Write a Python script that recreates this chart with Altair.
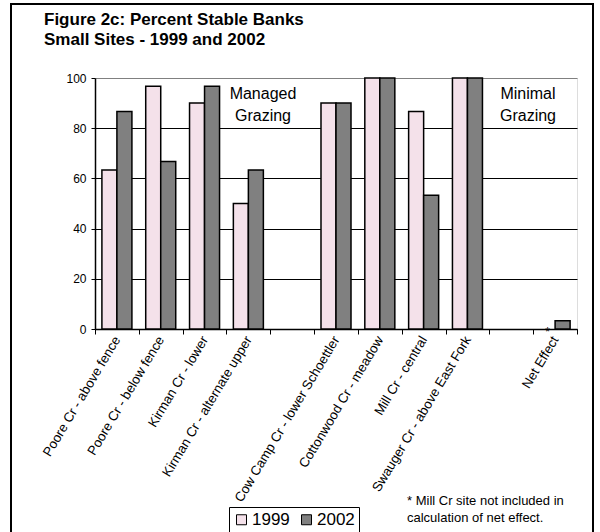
import altair as alt
import pandas as pd

# Sites in axis order; the two blank slots separate the grazing groups
sites = [
    "Poore Cr - above fence",
    "Poore Cr - below fence",
    "Kirman Cr - lower",
    "Kirman Cr - alternate upper",
    " ",
    "Cow Camp Cr - lower Schoettler",
    "Cottonwood Cr - meadow",
    "Mill Cr - central",
    "Swauger Cr - above East Fork",
    "  ",
    "Net Effect",
]
years = ["1999", "2002"]

# Percent stable banks per site (None = not measured)
pct_1999 = [63.3, 96.7, 90.0, 50.0, None, 90.0, 100.0, 86.7, 100.0, None, None]
pct_2002 = [86.7, 66.7, 96.7, 63.3, None, 90.0, 100.0, 53.3, 100.0, None, 3.3]

rows = []
for site, a, b in zip(sites, pct_1999, pct_2002):
    if a is not None:
        rows.append({"site": site, "year": "1999", "pct": a})
    if b is not None:
        rows.append({"site": site, "year": "2002", "pct": b})
df = pd.DataFrame(rows)

FONT = "Arial, Liberation Sans, sans-serif"
W, H = 482, 251

x_scale = alt.Scale(domain=sites, paddingInner=0, paddingOuter=0)
off_scale = alt.Scale(domain=years, paddingInner=0, paddingOuter=0.46)
y_scale = alt.Scale(domain=[0, 100], nice=False)

x_enc = alt.X(
    "site:N",
    sort=sites,
    scale=x_scale,
    axis=alt.Axis(
        title=None,
        labelAngle=-59,
        labelFontSize=13.3,
        labelFont=FONT,
        labelColor="black",
        labelPadding=3,
        labelLimit=300,
        tickBand="extent",
        tickSize=5,
        tickColor="black",
        domainColor="black",
        domainWidth=1.5,
        grid=False,
    ),
)

bars = (
    alt.Chart(df)
    .mark_bar(stroke="black", strokeWidth=1.5)
    .encode(
        x=x_enc,
        xOffset=alt.XOffset("year:N", scale=off_scale),
        y=alt.Y(
            "pct:Q",
            scale=y_scale,
            axis=alt.Axis(
                title=None,
                values=[0, 20, 40, 60, 80, 100],
                labelFontSize=12,
                labelFont=FONT,
                labelColor="black",
                labelPadding=5,
                tickSize=4,
                tickColor="black",
                domainColor="black",
                domainWidth=1.5,
                grid=True,
                gridColor=alt.condition(
                    alt.datum.value == 100, alt.value("#808080"), alt.value("black")
                ),
                gridWidth=1,
            ),
        ),
        color=alt.Color(
            "year:N",
            scale=alt.Scale(domain=years, range=["#f4e1ea", "#808080"]),
            legend=alt.Legend(
                title=None,
                orient="none",
                legendX=134,
                legendY=429,
                direction="horizontal",
                symbolType="square",
                symbolSize=100,
                symbolStrokeColor="black",
                symbolStrokeWidth=1,
                labelFontSize=17,
                labelFont=FONT,
                labelColor="black",
                labelOffset=2,
                columnPadding=8,
                strokeColor="black",
                fillColor="white",
                padding=4,
            ),
        ),
    )
)

# Asterisk marking the net-effect exclusion, set at the 1999 position
star = (
    alt.Chart(pd.DataFrame({"site": ["Net Effect"], "year": ["1999"], "pct": [0], "t": ["*"]}))
    .mark_text(font=FONT, fontSize=12, baseline="top", dy=-2, color="black")
    .encode(
        x=alt.X("site:N", sort=sites, scale=x_scale),
        xOffset=alt.XOffset("year:N", scale=off_scale),
        y=alt.Y("pct:Q", scale=y_scale),
        text="t:N",
    )
)

blank = pd.DataFrame({"k": [0]})

heading = alt.Chart(blank).mark_text(
    text=["Figure 2c: Percent Stable Banks", "Small Sites - 1999 and 2002"],
    font=FONT, fontSize=17, fontWeight="bold", lineHeight=20,
    align="left", baseline="alphabetic", color="black",
).encode(x=alt.value(-51), y=alt.value(-53))

managed = alt.Chart(blank).mark_text(
    text=["Managed", "Grazing"], font=FONT, fontSize=16, lineHeight=22,
    align="center", baseline="alphabetic", color="black",
).encode(x=alt.value(168), y=alt.value(21))

minimal = alt.Chart(blank).mark_text(
    text=["Minimal", "Grazing"], font=FONT, fontSize=16, lineHeight=22,
    align="center", baseline="alphabetic", color="black",
).encode(x=alt.value(433), y=alt.value(21))

footnote = alt.Chart(blank).mark_text(
    text=["* Mill Cr site not included in", "calculation of net effect."],
    font=FONT, fontSize=13, lineHeight=17,
    align="left", baseline="alphabetic", color="black",
).encode(x=alt.value(312), y=alt.value(427))

frame = alt.Chart(blank).mark_rect(
    fill=None, stroke="black", strokeWidth=2
).encode(
    x=alt.value(-84), x2=alt.value(498), y=alt.value(-74), y2=alt.value(470)
)

chart = (
    alt.layer(frame, bars, star, heading, managed, minimal, footnote)
    .properties(
        width=W,
        height=H,
        padding={"left": 95, "top": 78, "right": 23, "bottom": 203},
        autosize=alt.AutoSizeParams(type="none"),
    )
    .configure_view(stroke="#808080", strokeWidth=1)
    .configure(background="white")
)

chart.save("out.html", embed_options={"renderer": "svg", "actions": False})
